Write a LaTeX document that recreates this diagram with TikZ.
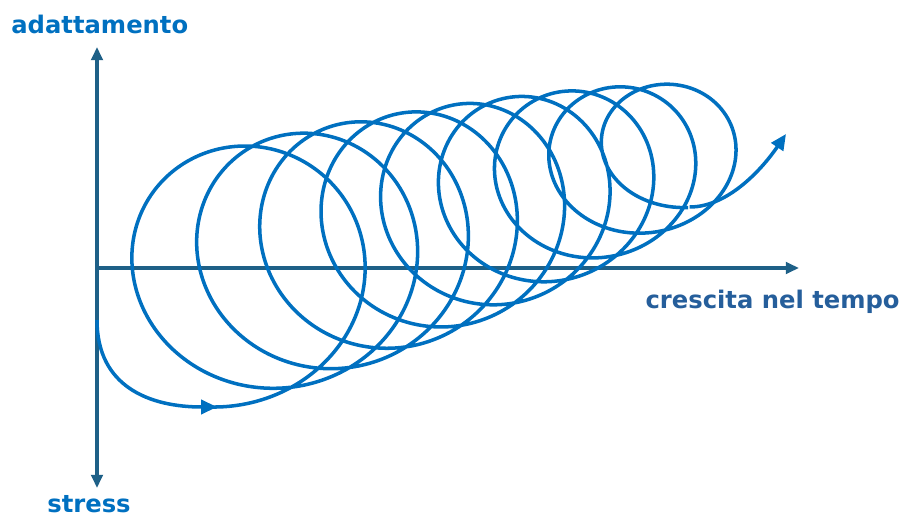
\documentclass[tikz,border=0pt]{standalone}
\usepackage{fontspec}
\setmainfont{DejaVu Sans}
\usetikzlibrary{arrows.meta}
\definecolor{curveblue}{RGB}{0,112,192}
\definecolor{axisblue}{RGB}{30,96,135}
\definecolor{labelblue}{RGB}{37,94,155}
\tikzset{
  axisline/.style={draw=axisblue, line width=1.9pt, -{Triangle[length=7.5pt,width=6.5pt]}},
  spiral/.style={draw=curveblue, line width=2pt},
  lbl/.style={font=\bfseries\fontsize{13.8}{16}\selectfont, inner sep=0pt},
}
\begin{document}
\begin{tikzpicture}[x=0.02cm,y=-0.02cm]
\useasboundingbox (0,0) rectangle (904,517);
% axes
\coordinate (O) at (97,268);
\coordinate (ytop) at (97,47);
\coordinate (ybot) at (97,488);
\coordinate (xend) at (799,268);
\draw[axisline] (O) -- (ytop);
\draw[axisline] (O) -- (ybot);
\draw[axisline] (O) -- (xend);
% labels
\node[lbl, text=curveblue, anchor=base west] (ad) at (11,34) {adattamento};
\node[lbl, text=labelblue, anchor=base east] (cr) at (900,309) {crescita nel tempo};
\node[lbl, text=curveblue, anchor=base west] (st) at (47,512) {stress};
% spiral
\coordinate (s0) at (97,320);
\coordinate (s1) at (217,407);
\draw[spiral] plot[domain=-0.012:9, samples=1200, smooth, variable=\u]
  ({217 + 60.4*\u - 0.875*\u*\u + (134.5 - 6.6*\u)*sin(360*\u)},
   {280 - 16.3*\u + 0.15*\u*\u + (127 - 2*\u - 0.58*\u*\u)*cos(360*\u)});
\draw[spiral, -{Triangle[length=9pt,width=8pt]}] (s0) .. controls (97,387) and (150,407) .. (s1);
\coordinate (e0) at (689.7,207);
\coordinate (e1) at (786,134);
\draw[spiral, -{Triangle[length=9pt,width=8pt]}] (e0) .. controls (730,207) and (765,165) .. (e1);
\end{tikzpicture}
\end{document}
